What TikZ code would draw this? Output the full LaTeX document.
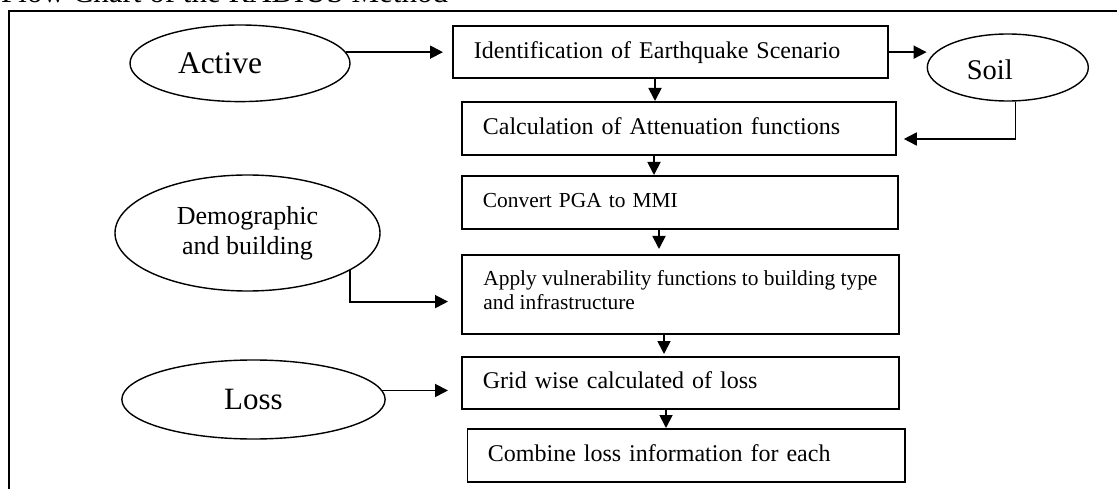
\documentclass[tikz,border=0pt]{standalone}
\usepackage{fontspec}
\setmainfont{Liberation Serif}
\usetikzlibrary{arrows.meta,shapes.geometric}

\tikzset{
  stepbox/.style={draw, rectangle, line width=1.8pt, anchor=north west,
    align=left, inner xsep=21pt, inner ysep=0pt, text depth=5pt,
    font=\fontsize{24}{27}\selectfont},
  oval/.style={draw, ellipse, line width=1.4pt, inner sep=0pt},
  arr/.style={line width=1.8pt, -{Triangle[length=13pt,width=13pt]}},
  thinline/.style={line width=1.1pt},
  outerframe/.style={line width=2pt}
}

\begin{document}
\begin{tikzpicture}[x=1pt,y=-1pt]
\useasboundingbox (0,0) rectangle (1117,489);

% heading and surrounding frame
\node[anchor=base west, inner sep=0pt, font=\fontsize{31}{31}\selectfont]
  (title) at (1,3) {Flow Chart of the RADIUS Method};
\draw[outerframe] (9.3,500) -- (9.3,10.7) -- (1130,10.7);

% input ovals
\node[oval, minimum width=220pt, minimum height=76.6pt,
  label={[font=\fontsize{31.5}{31.5}\selectfont, xshift=-20pt]center:Active}]
  (active) at (240,63.3) {};
\node[oval, minimum width=161pt, minimum height=67pt,
  label={[font=\fontsize{28.5}{28.5}\selectfont, xshift=-18pt, yshift=-2pt]center:Soil}]
  (soil) at (1007.8,67.5) {};
\node[oval, minimum width=265pt, minimum height=116pt, align=center,
  font=\fontsize{26}{30}\selectfont]
  (demo) at (247.5,233) {Demographic\\and building};
\node[oval, minimum width=263.3pt, minimum height=79pt,
  font=\fontsize{31}{31}\selectfont]
  (loss) at (253.5,399.5) {Loss};

% processing steps
\node[stepbox, text width=393pt, minimum height=52.5pt]
  (ident) at (452,25) {Identification of Earthquake Scenario};
\node[stepbox, text width=392pt, minimum height=53pt]
  (atten) at (461,101) {Calculation of Attenuation functions};
\node[stepbox, text width=394pt, minimum height=53pt, text depth=4pt,
  font=\fontsize{21.4}{24}\selectfont]
  (pga) at (461,175) {Convert PGA to MMI};
\node[stepbox, minimum width=437pt, inner xsep=0pt, minimum height=79pt, text depth=9pt,
  font=\fontsize{21.4}{24}\selectfont]
  (vuln) at (461,254) {Apply vulnerability functions to building type\\and infrastructure};
\node[stepbox, text width=395pt, minimum height=52pt]
  (grid) at (461,356) {Grid wise calculated of loss};
\node[stepbox, text width=396.5pt, inner xsep=20.5pt, minimum height=53pt]
  (comb) at (466.5,428) {Combine loss information for each};

% main chain
\draw[arr] (ident.south -| 655,0) -- (atten.north -| 655,0);
\draw[arr] (atten.south -| 654,0) -- (pga.north -| 654,0);
\draw[arr, shorten >=5pt] (pga.south -| 659,0) -- (vuln.north -| 659,0);
\draw[arr, shorten >=2pt] (vuln.south -| 664,0) -- (grid.north -| 664,0);
\draw[arr] (grid.south -| 666,0) -- (comb.north -| 666,0);

% inputs into the chain
\draw[arr, shorten >=9pt] (active.6) -- (active.6 -| ident.west);
\draw[arr] (ident.east) -- (ident.east -| soil.west);
\coordinate (soilbend) at (1015.7,139);
\draw[thinline] (soil.south -| soilbend) -- (soilbend);
\draw[arr, shorten >=7pt] (soilbend) -- (soilbend -| atten.east);
\draw[arr, shorten >=13pt] (demo.-20) |- ([yshift=-7.2pt]vuln.west);
\draw[arr, shorten >=13pt] (loss.4) -- (loss.4 -| grid.west);
\end{tikzpicture}
\end{document}
